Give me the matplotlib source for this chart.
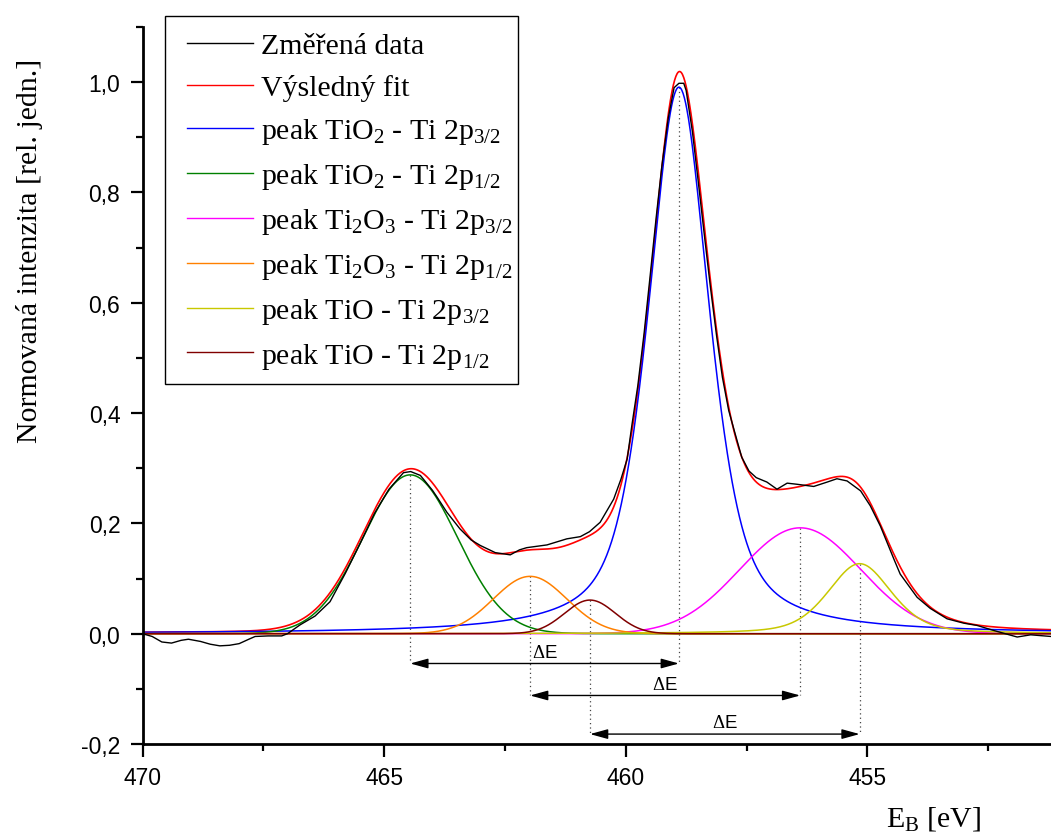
import numpy as np
import matplotlib
matplotlib.use("Agg")
import matplotlib.pyplot as plt
from matplotlib.patches import Rectangle
from matplotlib.ticker import MultipleLocator, FuncFormatter

# ---------------- data ----------------
# measured spectrum (binding energy [eV], normalised intensity)
energy_meas = [470.0, 469.8, 469.6, 469.4, 469.2, 469.05, 468.8, 468.6, 468.4, 468.2,
               468.0, 467.8, 467.67, 467.4, 467.12, 467.0, 466.74, 466.43, 466.12, 465.8,
               465.5, 465.2, 464.9, 464.6, 464.45, 464.25, 464.0, 463.9, 463.7, 463.43,
               463.2, 463.01, 462.7, 462.39, 462.2, 462.05, 461.63, 461.22, 460.94, 460.75,
               460.53, 460.25, 460.1, 459.97, 459.87, 459.75, 459.62, 459.5, 459.37, 459.25,
               459.12, 459.0, 458.9, 458.8, 458.75, 458.62, 458.5, 458.37, 458.25, 458.12,
               458.0, 457.87, 457.76, 457.6, 457.45, 457.3, 457.08, 456.87, 456.66, 456.46,
               456.11, 455.83, 455.63, 455.42, 455.14, 454.94, 454.73, 454.45, 454.32, 453.97,
               453.70, 453.35, 453.0, 452.73, 452.39, 451.90, 451.62, 451.2]
intensity_meas = [0.0, -0.005, -0.015, -0.017, -0.012, -0.010, -0.014, -0.019, -0.022, -0.021,
                  -0.018, -0.010, -0.005, -0.004, -0.004, 0.0, 0.016, 0.032, 0.058, 0.110,
                  0.163, 0.218, 0.262, 0.292, 0.294, 0.287, 0.260, 0.247, 0.220, 0.190,
                  0.170, 0.160, 0.147, 0.143, 0.152, 0.156, 0.161, 0.172, 0.176, 0.185,
                  0.202, 0.244, 0.280, 0.317, 0.380, 0.450, 0.545, 0.645, 0.755, 0.850,
                  0.935, 0.990, 0.998, 0.998, 0.985, 0.910, 0.820, 0.720, 0.630, 0.540,
                  0.465, 0.405, 0.370, 0.320, 0.295, 0.283, 0.275, 0.262, 0.273, 0.271,
                  0.267, 0.275, 0.281, 0.277, 0.259, 0.232, 0.195, 0.135, 0.108, 0.066,
                  0.046, 0.027, 0.019, 0.015, 0.006, -0.006, -0.002, -0.005]

# fitted components
peak_labels = [r"peak TiO$_2$ - Ti 2p$_{3/2}$",
               r"peak TiO$_2$ - Ti 2p$_{1/2}$",
               r"peak Ti$_2$O$_3$ - Ti 2p$_{3/2}$",
               r"peak Ti$_2$O$_3$ - Ti 2p$_{1/2}$",
               r"peak TiO - Ti 2p$_{3/2}$",
               r"peak TiO - Ti 2p$_{1/2}$"]
peak_colors = ["#0000ff", "#008000", "#ff00ff", "#ff8000", "#c8c800", "#800000"]
peak_center = [458.90, 464.46, 456.39, 461.98, 455.16, 460.74]
peak_height = [0.991, 0.288, 0.192, 0.104, 0.127, 0.061]
peak_fwhm = [1.50, 2.30, 2.95, 1.79, 1.55, 1.24]
peak_lorentz = [0.58, 0.0, 0.0, 0.0, 0.4, 0.0]

# Delta E arrows: (from peak index, to peak index) and their levels
delta_pairs = [(1, 0), (3, 2), (5, 4)]
delta_levels = [-0.054, -0.112, -0.182]
delta_label = r"$\Delta$E"

x_ticks = [470, 465, 460, 455]
x_limits = (470.0, 451.2)
y_limits = (-0.2, 1.1)

# ---------------- style ----------------
plt.rcParams["mathtext.fontset"] = "custom"
plt.rcParams["mathtext.rm"] = "Liberation Serif"
plt.rcParams["mathtext.it"] = "Liberation Serif:italic"
plt.rcParams["mathtext.bf"] = "Liberation Serif:bold"

W, H = 1051, 837
fig = plt.figure(figsize=(W / 100, H / 100), dpi=100)
ax = fig.add_axes([0.1356, 0.1099, 0.8644, 0.8566])

grid = np.linspace(x_limits[0], x_limits[1], 1500)


def component(c, h, w, eta):
    g = h * np.exp(-4 * np.log(2) * ((grid - c) / w) ** 2)
    lo = h / (1 + ((grid - c) / (w / 2)) ** 2)
    return (1 - eta) * g + eta * lo


comps = [component(c, h, w, e) for c, h, w, e in
         zip(peak_center, peak_height, peak_fwhm, peak_lorentz)]
fit_total = np.sum(comps, axis=0)

ax.plot(energy_meas, intensity_meas, color="black", lw=1.0, label="Změřená data", zorder=3)
ax.plot(grid, fit_total, color="#ff0000", lw=1.2, label="Výsledný fit", zorder=2)
for comp, col, lab in zip(comps, peak_colors, peak_labels):
    ax.plot(grid, comp, color=col, lw=1.1, label=lab, zorder=2)

# dotted drop lines and Delta E arrows
for (i, j), lvl in zip(delta_pairs, delta_levels):
    for k in (i, j):
        ax.plot([peak_center[k], peak_center[k]], [peak_height[k], lvl],
                ls=(0, (1, 2.5)), color="#444444", lw=0.9, zorder=1)
    ax.annotate("", xy=(peak_center[j], lvl), xytext=(peak_center[i], lvl),
                arrowprops=dict(arrowstyle="<|-|>,head_length=0.8,head_width=0.22",
                                mutation_scale=13.5, color="black", lw=1.0,
                                shrinkA=0, shrinkB=0), zorder=4)
    ax.annotate(delta_label, xy=((peak_center[i] + peak_center[j]) / 2, lvl),
                xytext=(0, 2), textcoords="offset points", ha="center", va="bottom",
                fontsize=13.5, family="Liberation Sans")

ax.set_xlim(*x_limits)
ax.set_ylim(*y_limits)
ax.set_xticks(x_ticks)
ax.xaxis.set_minor_locator(MultipleLocator(2.5))
ax.yaxis.set_major_locator(MultipleLocator(0.2))
ax.yaxis.set_minor_locator(MultipleLocator(0.1))
ax.yaxis.set_major_formatter(FuncFormatter(lambda v, p: f"{v:.1f}".replace(".", ",").replace("-0,0", "0,0")))
ax.xaxis.set_major_formatter(FuncFormatter(lambda v, p: f"{v:.0f}"))

for s in ("top", "right"):
    ax.spines[s].set_visible(False)
for s in ("left", "bottom"):
    ax.spines[s].set_linewidth(2.0)

ax.tick_params(which="major", direction="out", length=9, width=1.6, pad=7,
               labelsize=16.5)
ax.tick_params(which="minor", direction="out", length=5, width=1.6)
for t in ax.get_xticklabels() + ax.get_yticklabels():
    t.set_family("Liberation Sans")

fig.text(0.028, 0.70, "Normovaná intenzita [rel. jedn.]", rotation=90,
         ha="center", va="center", family="Liberation Serif", fontsize=21.5)
fig.text(0.888, 0.013, r"E$_\mathrm{B}$ [eV]", ha="center", va="baseline",
         family="Liberation Serif", fontsize=21.5)

# legend frame drawn explicitly, legend contents without own frame
frame = Rectangle((165 / W, 1 - 385 / H), (518 - 165) / W, (385 - 17) / H,
                  transform=fig.transFigure, facecolor="white", edgecolor="black",
                  lw=1.0, zorder=4.5, clip_on=False)
ax.add_patch(frame)
leg = ax.legend(loc="upper left", bbox_to_anchor=(165 / W, 1 - 12 / H),
                bbox_transform=fig.transFigure, borderaxespad=0,
                prop={"family": "Liberation Serif", "size": 21.5},
                frameon=False, handlelength=2.24,
                handletextpad=0.26, labelspacing=0.5, borderpad=0.72)
leg.set_zorder(5)
for ln in leg.get_lines():
    ln.set_linewidth(1.0)

fig.savefig("out.png", dpi=100)
